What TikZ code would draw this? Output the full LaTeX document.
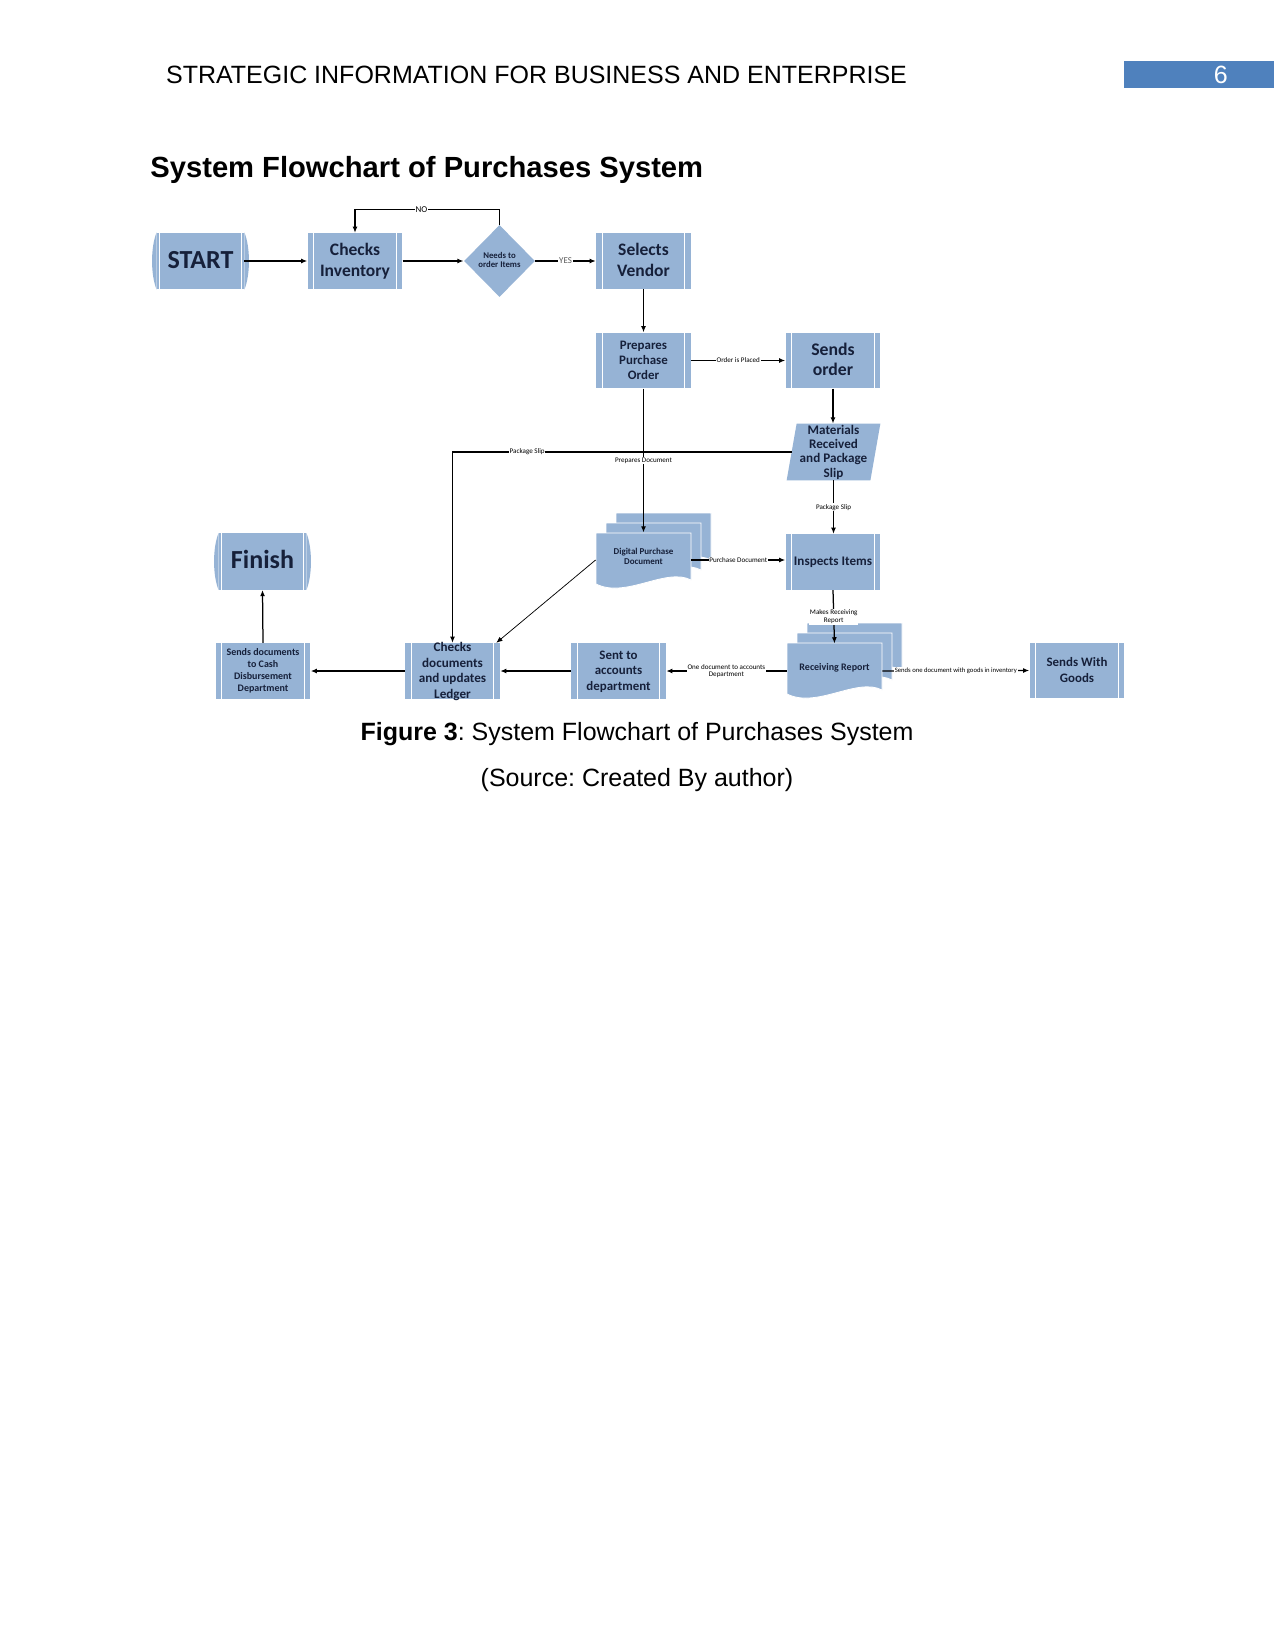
\documentclass[tikz,border=0pt]{standalone}
\usepackage{fontspec}
\setmainfont{Liberation Sans}
\newfontfamily\visfont{Carlito}
\usetikzlibrary{shapes.geometric, arrows.meta, backgrounds}
\definecolor{boxblue}{RGB}{150,179,213}
\definecolor{txtblue}{RGB}{22,32,58}
\definecolor{pnblue}{RGB}{79,129,189}
\frenchspacing
\newcommand\fsz[2]{\fontsize{#1}{#2}\selectfont}
\newcommand\tb[1]{\raisebox{-0.3em}[0pt][0pt]{\begin{tabular}{@{}c@{}}#1\end{tabular}}}
\begin{document}
\begin{tikzpicture}[x=0.48pt, y=-0.48pt,
  flowbox/.style={fill=boxblue, text=txtblue, inner sep=0pt, align=center},
  whitelines/.style={path picture={
     \draw[white, line width=0.5pt] ([xshift=#1]path picture bounding box.north west) -- ([xshift=#1]path picture bounding box.south west);
     \draw[white, line width=0.5pt] ([xshift=-#1]path picture bounding box.north east) -- ([xshift=-#1]path picture bounding box.south east);}},
  procbox/.style={flowbox, rectangle, minimum width=45.4pt, minimum height=26.6pt, whitelines=2.8pt},
  termbox/.style={flowbox, rectangle, minimum width=41.8pt, minimum height=26.9pt, whitelines=1.4pt},
  decbox/.style={flowbox, diamond, shape aspect=1, minimum width=34.1pt, minimum height=34.6pt},
  docnode/.style={text=txtblue, inner sep=0pt, align=center, rectangle, minimum width=45.6pt, minimum height=26pt},
  ionode/.style={text=txtblue, inner sep=0pt, align=center, rectangle, minimum width=44.6pt, minimum height=26.9pt},
  docshape/.pic={\path[fill=boxblue, draw=white, line width=0.4pt] (0,0) -- (95,0) -- (95,47) .. controls (70,34) and (30,66) .. (0,51) -- cycle;},
  elab/.style={fill=white, inner sep=0.4pt, text=black, font=\visfont\fsz{3.4}{3.9}, align=center},
  arr/.style={draw=black, line width=0.6pt, -{Latex[length=3pt, width=2.4pt]}},
  thinarr/.style={draw=black, line width=0.35pt, -{Latex[length=3pt, width=2.4pt]}}
]
\begin{scope}[on background layer]
\fill[white] (0,0) rectangle (1275,1651);
\end{scope}
\useasboundingbox (0,0) rectangle (1275,1651);

% header
\node (hdr) at (536.5,75) {\fsz{12}{14}STRATEGIC INFORMATION FOR BUSINESS AND ENTERPRISE};
\node[fill=pnblue, text=white, minimum width=72pt, minimum height=13pt, inner sep=0pt] (pn) at (1199,74.5) {\fsz{12}{14}\hspace{21pt}6};
\node[anchor=west, inner sep=0pt] (title) at (150,170) {\fsz{14}{16}\bfseries System Flowchart of Purchases System};

% multi-document shapes
\pic at (616,513) {docshape};
\pic at (606,523) {docshape};
\pic at (596,533) {docshape};
\pic at (807,623) {docshape};
\pic at (797,633) {docshape};
\pic at (787,643) {docshape};

% nodes
\node[termbox, font=\visfont\bfseries\fsz{12.5}{14}] (start) at (200.5,261) {\tb{START}};
\node[procbox, font=\visfont\bfseries\fsz{8.4}{9.9}] (ci) at (355,261) {\tb{Checks\\Inventory}};
\node[decbox, font=\visfont\bfseries\fsz{4.2}{4.6}] (dia) at (499.5,261) {\tb{Needs to\\order Items}};
\node[procbox, font=\visfont\bfseries\fsz{8.4}{9.9}] (sv) at (643.5,261) {\tb{Selects\\Vendor}};
\node[procbox, font=\visfont\bfseries\fsz{6.2}{7.2}] (ppo) at (643.5,360.5) {\tb{Prepares\\Purchase\\Order}};
\node[procbox, font=\visfont\bfseries\fsz{8.5}{9.6}] (so) at (833,360.5) {\tb{Sends\\order}};
\node[ionode, font=\visfont\bfseries\fsz{6.3}{6.9}] (mat) at (833.5,452) {\tb{Materials\\Received\\and Package\\Slip}};
\node[docnode, font=\visfont\bfseries\fsz{4.3}{5}] (dpd) at (643.5,560) {\raisebox{2.4pt}{\tb{Digital Purchase\\Document}}};
\node[procbox, font=\visfont\bfseries\fsz{6.3}{7}] (ins) at (833,562) {\tb{Inspects Items}};
\node[termbox, font=\visfont\bfseries\fsz{12.5}{14}] (fin) at (262.5,561.5) {\tb{Finish}};
\node[procbox, font=\visfont\bfseries\fsz{4.8}{5.7}] (sdc) at (263,671) {\tb{Sends documents\\to Cash\\Disbursement\\Department}};
\node[procbox, font=\visfont\bfseries\fsz{6.3}{7.4}] (cdl) at (452.5,671) {\tb{Checks\\documents\\and updates\\Ledger}};
\node[procbox, font=\visfont\bfseries\fsz{6.2}{7.6}] (sad) at (618.5,671) {\tb{Sent to\\accounts\\department}};
\node[docnode, font=\visfont\bfseries\fsz{4.8}{5.6}] (rr) at (834.5,671) {\raisebox{3.4pt}{\tb{Receiving Report}}};
\node[procbox, font=\visfont\bfseries\fsz{6.2}{7.6}] (swg) at (1077,670.5) {\tb{Sends With\\Goods}};

% terminator bulges and parallelogram body
\begin{scope}[on background layer]
\foreach \n in {start,fin} {
  \fill[boxblue] (\n.north east) .. controls +(6,15) and +(6,-15) .. (\n.south east) -- cycle;
  \fill[boxblue] (\n.north west) .. controls +(-6,15) and +(-6,-15) .. (\n.south west) -- cycle;
}
\fill[boxblue] ([xshift=4.8pt]mat.north west) -- (mat.north east) -- ([xshift=-4.8pt]mat.south east) -- (mat.south west) -- cycle;
\end{scope}

% connectors
\draw[arr] (start.east) -- (ci.west);
\draw[arr] (ci.east) -- (dia.west);
\draw[arr] (dia.east) -- node[elab, text=black!65, font=\visfont\fsz{4.3}{5}]{YES} (sv.west);
\draw[arr] (dia.north) -- ++(0,-15) -| node[elab, pos=0.27, font=\visfont\fsz{4.3}{5}]{NO} (ci.north);
\draw[arr] (sv.south) -- (ppo.north);
\draw[arr] (ppo.east) -- node[elab]{Order is Placed} (so.west);
\draw[arr] (so.south) -- (so.south |- mat.north);
\draw[arr] ([xshift=2.4pt]mat.west) -| node[elab, pos=0.39]{Package Slip} (cdl.north);
\draw[arr] (ppo.south) -- node[elab]{Prepares Document} (dpd.north);
\draw[arr] (mat.south) -- node[elab]{Package Slip} (mat.south |- ins.north);
\draw[arr] (dpd.east) -- node[elab]{Purchase Document} (dpd.east -| ins.west);
\draw[thinarr] (dpd.west) -- ([xshift=-1.9pt]cdl.north east);
\draw[arr] (ins.south) -- node[elab, font=\visfont\fsz{3.4}{3.7}]{Makes Receiving\\Report} (rr.north);
\draw[arr] (rr.west) -- node[elab, font=\visfont\fsz{3.4}{3.7}]{One document to accounts\\Department} (sad.east);
\draw[arr] (rr.east) -- node[elab, font=\visfont\fsz{3.2}{3.7}]{Sends one document with goods in inventory} (swg.west);
\draw[arr] (sad.west) -- (cdl.east);
\draw[arr] (cdl.west) -- (sdc.east);
\draw[arr] (sdc.north) -- (fin.south);

% caption
\node (cap) at (637,734) {\fsz{12}{14}\textbf{Figure 3}: System Flowchart of Purchases System};
\node (src) at (637,780) {\fsz{12}{14}(Source: Created By author)};
\end{tikzpicture}
\end{document}
